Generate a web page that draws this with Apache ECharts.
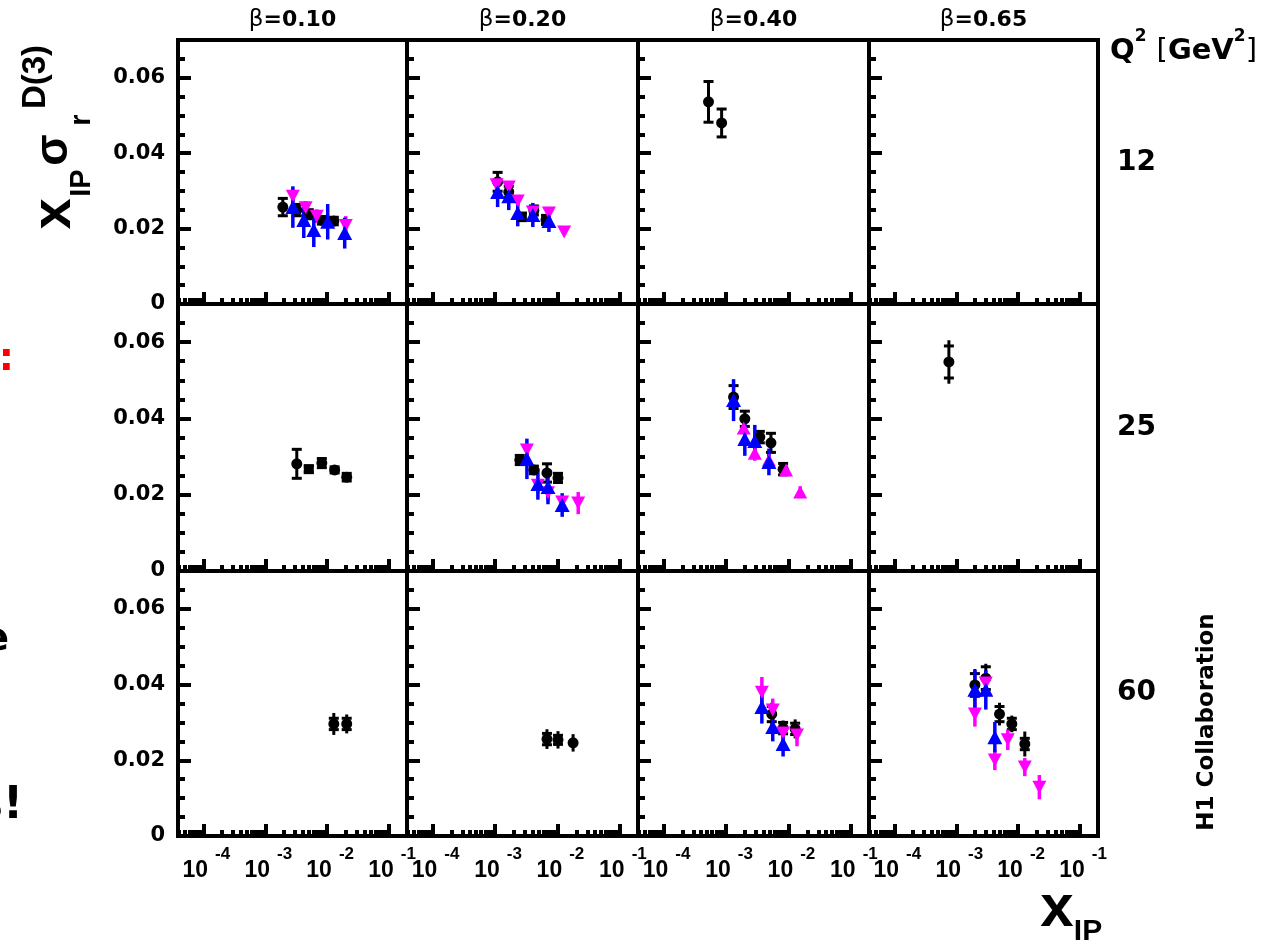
<!DOCTYPE html>
<html><head><meta charset="utf-8">
<script src="https://cdn.jsdelivr.net/npm/echarts@6/dist/echarts.min.js"></script>
<style>html,body{margin:0;padding:0;background:#fff}#c{width:1270px;height:944px}</style>
</head><body><div id="c"></div>
<script>
// ---------- labels ----------
const betaValues = ['0.10', '0.20', '0.40', '0.65'];
const q2Values = ['12', '25', '60'];
const xTickExponents = [-4, -3, -2, -1];
const yTickValues = [0, 0.02, 0.04, 0.06];
const xLogRange = [-4.41, -0.71];
const yRange = [0, 0.07];

// ---------- data ----------
// black points: [xIP, value, innerErr (cap), outerErr]
// coloured points: [xIP, value, err]
// Q2 = 12
const blackQ12B010 = [[1.92e-3, 0.0257, 0.0023, 0.0023], [3.24e-3, 0.0249, 0.0015, 0.0015], [5.05e-3, 0.0238, 0.0012, 0.0012], [8.2e-3, 0.0222, 0.001, 0.001], [1.28e-2, 0.0220, 0.001, 0.001]];
const magentaQ12B010 = [[2.79e-3, 0.0286, 0.002], [4.5e-3, 0.0255, 0.0018], [6.8e-3, 0.0233, 0.0018], [2.0e-2, 0.0208, 0.0025]];
const blueQ12B010 = [[2.79e-3, 0.0257, 0.0055], [4.19e-3, 0.0223, 0.0048], [6.08e-3, 0.0196, 0.0045], [1.02e-2, 0.0218, 0.0047], [1.92e-2, 0.0188, 0.0041]];

const blackQ12B020 = [[1.10e-3, 0.0324, 0.0025, 0.0025], [1.66e-3, 0.0297, 0.0015, 0.0015], [4.19e-3, 0.0248, 0.0012, 0.0012], [6.55e-3, 0.0223, 0.0012, 0.0012]];
const blackSqQ12B020 = [[2.69e-3, 0.0231, 0.001, 0.001]];
const magentaQ12B020 = [[1.06e-3, 0.0316, 0.0015], [1.66e-3, 0.0310, 0.0015], [2.31e-3, 0.0273, 0.0012], [4.03e-3, 0.0244, 0.0012], [7.3e-3, 0.0241, 0.0012], [1.28e-2, 0.0191, 0.0008]];
const blueQ12B020 = [[1.10e-3, 0.0297, 0.0040], [1.66e-3, 0.0286, 0.0037], [2.31e-3, 0.0241, 0.0035], [4.03e-3, 0.0236, 0.0032], [7.3e-3, 0.0220, 0.0029]];

const blackQ12B040 = [[5.24e-4, 0.0536, 0.0054, 0.0054], [8.5e-4, 0.0480, 0.0037, 0.0037]];

// Q2 = 25
const blackQ25B010 = [[3.23e-3, 0.0281, 0.0038, 0.0038], [8.2e-3, 0.0283, 0.0012, 0.0015], [1.32e-2, 0.0265, 0.0008, 0.0008], [2.07e-2, 0.0246, 0.001, 0.001]];
const blackSqQ25B010 = [[5.05e-3, 0.0267, 0.0008, 0.0008]];

const blackQ25B020 = [[2.49e-3, 0.0291, 0.0012, 0.0012], [4.19e-3, 0.0265, 0.001, 0.001], [6.79e-3, 0.0257, 0.0024, 0.0024], [1.02e-2, 0.0244, 0.0012, 0.0015]];
const magentaQ25B020 = [[3.24e-3, 0.0317, 0.0015], [4.86e-3, 0.0225, 0.002], [7.05e-3, 0.0205, 0.002], [1.19e-2, 0.0181, 0.0015], [2.15e-2, 0.0178, 0.0029]];
const blueQ25B020 = [[3.24e-3, 0.0294, 0.0053], [4.86e-3, 0.0228, 0.0041], [7.05e-3, 0.0220, 0.0045], [1.19e-2, 0.0173, 0.0031]];

const blackQ25B040 = [[1.32e-3, 0.0456, 0.003, 0.003], [2.0e-3, 0.0399, 0.002, 0.002], [3.48e-3, 0.0351, 0.0015, 0.0015], [5.24e-3, 0.0336, 0.0025, 0.0025], [8.2e-3, 0.0267, 0.0015, 0.0015]];
const magentaUpQ25B040 = [[1.92e-3, 0.0375, 0.0012], [2.89e-3, 0.0309, 0.002], [4.86e-3, 0.0291, 0.0015], [9.15e-3, 0.0265, 0.0012], [1.54e-2, 0.0207, 0.0015]];
const blueQ25B040 = [[1.32e-3, 0.0448, 0.0055], [2.0e-3, 0.0346, 0.0044], [2.89e-3, 0.0341, 0.0042], [4.86e-3, 0.0286, 0.0035]];

const blackQ25B065 = [[7.6e-4, 0.0548, 0.0042, 0.0057]];

// Q2 = 60
const blackQ60B010 = [[1.28e-2, 0.0296, 0.0015, 0.0029], [2.07e-2, 0.0296, 0.0015, 0.0025]];
const blackQ60B020 = [[6.79e-3, 0.0256, 0.0015, 0.0026], [1.02e-2, 0.0254, 0.0012, 0.0023], [1.78e-2, 0.0246, 0, 0.0023]];

const blackQ60B040 = [[5.4e-3, 0.0322, 0.002, 0.003], [8.2e-3, 0.0285, 0.0015, 0.002], [1.28e-2, 0.0283, 0.0015, 0.0025]];
const magentaQ60B040 = [[3.75e-3, 0.0380, 0.004], [5.6e-3, 0.0333, 0.003], [8.2e-3, 0.0272, 0.002], [1.37e-2, 0.0267, 0.003]];
const blueQ60B040 = [[3.75e-3, 0.0341, 0.0044], [5.6e-3, 0.0288, 0.0038], [8.2e-3, 0.0243, 0.0033]];

const blackQ60B065 = [[2.0e-3, 0.0399, 0.003, 0.0042], [3.0e-3, 0.0417, 0.003, 0.0038], [5.0e-3, 0.0322, 0.002, 0.003], [7.9e-3, 0.0296, 0.0015, 0.0022], [1.28e-2, 0.0243, 0.0015, 0.0033]];
const magentaQ60B065 = [[2.0e-3, 0.0322, 0.0033], [3.0e-3, 0.0404, 0.002], [4.2e-3, 0.0201, 0.0027], [6.8e-3, 0.0254, 0.0027], [1.28e-2, 0.0182, 0.0024], [2.2e-2, 0.0129, 0.0032]];
const blueQ60B065 = [[2.0e-3, 0.0386, 0.0053], [3.0e-3, 0.0386, 0.0052], [4.2e-3, 0.0261, 0.004]];

const panels = [
  {row: 0, col: 0, black: blackQ12B010, magenta: magentaQ12B010, blue: blueQ12B010},
  {row: 0, col: 1, black: blackQ12B020, blackSq: blackSqQ12B020, magenta: magentaQ12B020, blue: blueQ12B020},
  {row: 0, col: 2, black: blackQ12B040},
  {row: 0, col: 3},
  {row: 1, col: 0, black: blackQ25B010, blackSq: blackSqQ25B010},
  {row: 1, col: 1, black: blackQ25B020, magenta: magentaQ25B020, blue: blueQ25B020},
  {row: 1, col: 2, black: blackQ25B040, magentaUp: magentaUpQ25B040, blue: blueQ25B040},
  {row: 1, col: 3, black: blackQ25B065},
  {row: 2, col: 0, black: blackQ60B010},
  {row: 2, col: 1, black: blackQ60B020},
  {row: 2, col: 2, black: blackQ60B040, magenta: magentaQ60B040, blue: blueQ60B040},
  {row: 2, col: 3, black: blackQ60B065, magenta: magentaQ60B065, blue: blueQ60B065}
];

// ---------- layout ----------
const colLeft = [178, 407, 638, 869];
const colWidth = [229, 231, 231, 229];
const rowTop = [40, 304, 571];
const rowHeight = [264, 267, 265];
const FONT = 'DejaVu Sans';
const FONT2 = 'Liberation Sans';
const LINE_W = 4;
const TICK_W = 4;

function errRender(capHalf, lw, color) {
  return function (params, api) {
    const x = api.value(0), y = api.value(1), inner = api.value(2), outer = api.value(3);
    const p1 = api.coord([x, y + outer]), p2 = api.coord([x, y - outer]);
    const children = [{type: 'line', shape: {x1: p1[0], y1: p1[1], x2: p2[0], y2: p2[1]}, style: {stroke: color, lineWidth: lw}}];
    if (capHalf > 0 && inner > 0) {
      [y + inner, y - inner].forEach(function (v) {
        const c = api.coord([x, v]);
        children.push({type: 'line', shape: {x1: c[0] - capHalf, y1: c[1], x2: c[0] + capHalf, y2: c[1]}, style: {stroke: color, lineWidth: lw}});
      });
    }
    return {type: 'group', children: children};
  };
}

const grids = [], xAxes = [], yAxes = [], series = [];
panels.forEach(function (p, i) {
  grids.push({left: colLeft[p.col], top: rowTop[p.row], width: colWidth[p.col], height: rowHeight[p.row],
    show: true, borderColor: '#000', borderWidth: LINE_W, backgroundColor: 'transparent', containLabel: false, outerBoundsMode: 'none'});
  xAxes.push({
    type: 'log', logBase: 10, gridIndex: i,
    min: Math.pow(10, xLogRange[0]), max: Math.pow(10, xLogRange[1]),
    axisLine: {show: true, onZero: false, lineStyle: {color: '#000', width: LINE_W}},
    splitLine: {show: false}, minorSplitLine: {show: false},
    axisTick: {show: true, inside: true, length: 12, lineStyle: {color: '#000', width: TICK_W, cap: 'butt'}},
    minorTick: {show: true, splitNumber: 9, length: 6, lineStyle: {color: '#000', width: TICK_W, cap: 'butt'}},
    axisLabel: {
      show: p.row === 2, margin: 10, color: '#000',
      formatter: function (v) {
        const lg = Math.log10(v), e = Math.round(lg);
        if (Math.abs(lg - e) < 0.01 && xTickExponents.indexOf(e) >= 0) return '{b|10}{s|' + e + '}';
        return '';
      },
      rich: {
        b: {fontFamily: FONT2, fontWeight: 'bold', fontSize: 23, color: '#000', padding: [13, 0, 0, 6], verticalAlign: 'bottom'},
        s: {fontFamily: FONT2, fontWeight: 'bold', fontSize: 17, color: '#000', padding: [0, 0, 0, 7], verticalAlign: 'top'}
      }
    }
  });
  yAxes.push({
    type: 'value', gridIndex: i, min: yRange[0], max: yRange[1], interval: 0.02,
    axisLine: {show: true, onZero: false, lineStyle: {color: '#000', width: LINE_W}},
    splitLine: {show: false}, minorSplitLine: {show: false},
    axisTick: {show: true, inside: true, length: 13, lineStyle: {color: '#000', width: TICK_W, cap: 'butt'}},
    minorTick: {show: true, splitNumber: 4, length: 7, lineStyle: {color: '#000', width: TICK_W, cap: 'butt'}},
    axisLabel: {
      show: p.col === 0, margin: 13, color: '#000', fontFamily: FONT, fontWeight: 'bold', fontSize: 21,
      formatter: function (v) {
        for (let k = 0; k < yTickValues.length; k++) {
          if (Math.abs(yTickValues[k] - v) < 1e-9) return v === 0 ? '0' : v.toFixed(2);
        }
        return '';
      }
    }
  });
  function addSet(arr, color, symbol, size, rotate, isBlack) {
    if (!arr || !arr.length) return;
    const errData = arr.map(function (d) { return isBlack ? [d[0], d[1], d[2], d[3]] : [d[0], d[1], 0, d[2]]; });
    series.push({type: 'custom', xAxisIndex: i, yAxisIndex: i, coordinateSystem: 'cartesian2d', silent: true, clip: false,
      encode: {x: 0, y: 1}, renderItem: errRender(isBlack ? 5 : 0, isBlack ? 3 : 3.5, color), data: errData, animation: false});
    series.push({type: 'scatter', xAxisIndex: i, yAxisIndex: i, silent: true, animation: false,
      symbol: symbol, symbolSize: size, symbolRotate: rotate, itemStyle: {color: color, opacity: 1},
      data: arr.map(function (d) { return [d[0], d[1]]; })});
  }
  addSet(p.black, '#000000', 'circle', 11, 0, true);
  addSet(p.blackSq, '#000000', 'rect', 10, 0, true);
  addSet(p.magenta, '#ff00ff', 'triangle', [14, 13], 180, false);
  addSet(p.magentaUp, '#ff00ff', 'triangle', [14, 13], 0, false);
  addSet(p.blue, '#0000ff', 'triangle', [15, 14], 0, false);
});

// ---------- texts ----------
const graphics = [];
betaValues.forEach(function (b, c) {
  graphics.push({type: 'text', x: colLeft[c] + colWidth[c] / 2, y: 20, silent: true,
    style: {text: '{g|β}{b|=' + b + '}', align: 'center', verticalAlign: 'middle', fill: '#000',
      rich: {g: {fontFamily: FONT, fontSize: 23, fill: '#000'}, b: {fontFamily: FONT, fontWeight: 'bold', fontSize: 22, fill: '#000'}}}});
});
q2Values.forEach(function (q, r) {
  graphics.push({type: 'text', x: 1117, y: [163, 428, 693][r], silent: true,
    style: {text: q, align: 'left', verticalAlign: 'middle', fill: '#000', font: 'bold 28px ' + FONT}});
});
graphics.push({type: 'text', x: 1110, y: 47, silent: true,
  style: {text: '{b|Q}{s|2}{b| }{n|[}{b|GeV}{s|2}{n|]}', align: 'left', verticalAlign: 'middle', fill: '#000',
    rich: {b: {fontFamily: FONT, fontWeight: 'bold', fontSize: 29, verticalAlign: 'bottom', padding: [8, 0, 0, 0]},
      s: {fontFamily: FONT, fontWeight: 'bold', fontSize: 17, verticalAlign: 'top'},
      n: {fontFamily: FONT, fontSize: 29, verticalAlign: 'bottom', padding: [8, 0, 0, 0]}}}});
graphics.push({type: 'text', x: 1207, y: 722, rotation: Math.PI / 2, silent: true,
  style: {text: 'H1 Collaboration', align: 'center', verticalAlign: 'middle', fill: '#000', font: 'bold 23px ' + FONT}});
// y-axis title pieces (rotated)
[['x', 'bold 56px ' + FONT2, 55, 214], ['IP', 'bold 29px ' + FONT2, 82, 183], ['σ', 'bold 46px ' + FONT2, 54, 150],
 ['r', 'bold 29px ' + FONT2, 82, 120], ['D(3)', 'bold 33px ' + FONT2, 36, 77]].forEach(function (t) {
  graphics.push({type: 'text', x: t[2], y: t[3], rotation: Math.PI / 2, silent: true,
    style: {text: t[0], align: 'center', verticalAlign: 'middle', fill: '#000', font: t[1]}});
});
// x-axis title
graphics.push({type: 'text', x: 1057, y: 909, silent: true, style: {text: 'x', align: 'center', verticalAlign: 'middle', fill: '#000', font: 'bold 60px ' + FONT2}});
graphics.push({type: 'text', x: 1088, y: 932, silent: true, style: {text: 'IP', align: 'center', verticalAlign: 'middle', fill: '#000', font: 'bold 30px ' + FONT2}});
// cut-off slide text at the left edge
graphics.push({type: 'text', x: 14, y: 360, silent: true, style: {text: ':', align: 'right', verticalAlign: 'middle', fill: '#ff0000', font: 'bold 38px ' + FONT}});
graphics.push({type: 'text', x: 9, y: 640, silent: true, style: {text: 'e', align: 'right', verticalAlign: 'middle', fill: '#000', font: 'bold 38px ' + FONT}});
graphics.push({type: 'text', x: 23, y: 807, silent: true, style: {text: 's!', align: 'right', verticalAlign: 'middle', fill: '#000', font: 'bold 44px ' + FONT}});

const chart = echarts.init(document.getElementById('c'), null, {renderer: 'canvas'});
chart.setOption({
  animation: false, backgroundColor: '#fff',
  grid: grids, xAxis: xAxes, yAxis: yAxes, series: series, graphic: graphics
});
</script></body></html>
